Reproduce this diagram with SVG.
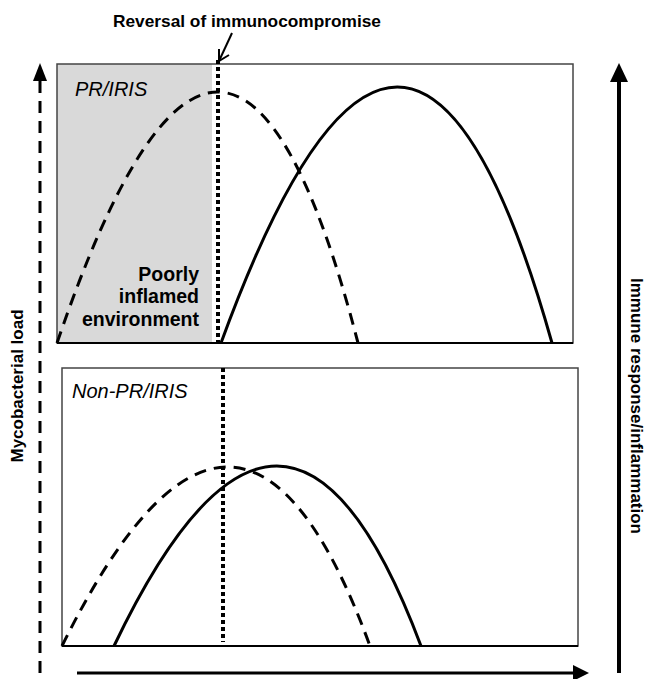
<svg xmlns="http://www.w3.org/2000/svg" width="646" height="679" viewBox="0 0 646 679">
<style>
text{font-family:"Liberation Sans",Arial,sans-serif;fill:#000}
.b{font-weight:bold}
.it{font-style:italic;font-size:20px}
.frame{fill:none;stroke:#444;stroke-width:1.5}
.base{stroke:#000;stroke-width:2}
.dash{fill:none;stroke:#000;stroke-width:3;stroke-dasharray:12 8}
.solid{fill:none;stroke:#000;stroke-width:3}
.dot{stroke:#000;stroke-width:4;stroke-dasharray:4 3}
</style>
<rect width="646" height="679" fill="#fff"/>

<g id="title">
<text class="b" x="113" y="27" font-size="17.3">Reversal of immunocompromise</text>
<polyline points="232,33 219,61" fill="none" stroke="#000" stroke-width="2"/>
<polyline points="219,49 219,61 229,55" fill="none" stroke="#000" stroke-width="2"/>
</g>

<g id="panel-pr-iris">
<rect x="57" y="64" width="155" height="279" fill="#d9d9d9"/>
<rect class="frame" x="57" y="64" width="516" height="279"/>
<line class="base" x1="57" y1="343" x2="573" y2="343"/>
<text class="it" x="75" y="96">PR/IRIS</text>
<text class="b" font-size="19.5" text-anchor="end"><tspan x="199" y="281">Poorly</tspan><tspan x="199" y="303">inflamed</tspan><tspan x="199" y="326">environment</tspan></text>
</g>

<g id="panel-non-pr-iris">
<rect class="frame" x="62" y="368" width="516" height="278"/>
<line class="base" x1="62" y1="646" x2="578" y2="646"/>
<text class="it" x="72" y="398">Non-PR/IRIS</text>
</g>

<g id="curves">
<line class="dot" x1="218" y1="60" x2="218" y2="343"/>
<path class="dash" d="M57,343 Q228,-159 358,343"/>
<path class="solid" d="M221,343 Q408,-169 552,343"/>
<line class="dot" x1="223" y1="368" x2="223" y2="642"/>
<path class="dash" d="M62,646 Q239,288 370,646"/>
<path class="solid" d="M114,646 Q286,286 421,646"/>
</g>

<g id="axes">
<line x1="40" y1="673" x2="40" y2="80" stroke="#000" stroke-width="3" stroke-dasharray="12 8"/>
<path d="M33,81 L40,63 L47,81 z" fill="#000"/>
<line x1="619" y1="673" x2="619" y2="80" stroke="#000" stroke-width="4"/>
<path d="M610,82 L619,63 L628,82 z" fill="#000"/>
<line x1="77" y1="673" x2="575" y2="673" stroke="#000" stroke-width="3"/>
<path d="M573,665 L589,673 L573,681 z" fill="#000"/>
<text class="b" font-size="17" text-anchor="middle" transform="translate(23,386) rotate(-90)">Mycobacterial load</text>
<text class="b" font-size="17" text-anchor="middle" transform="translate(631,406) rotate(90)">Immune response/inflammation</text>
</g>
</svg>
